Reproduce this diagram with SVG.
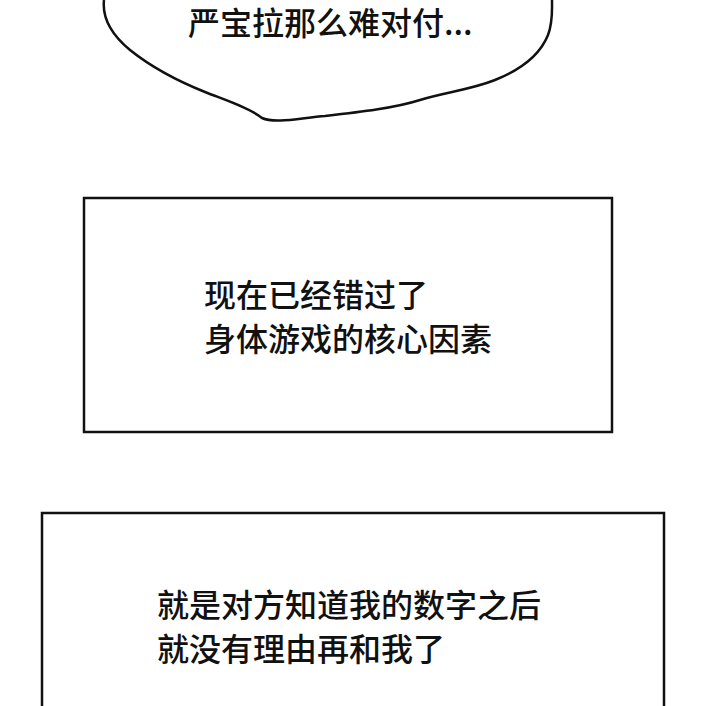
<svg xmlns="http://www.w3.org/2000/svg" width="720" height="706" viewBox="0 0 720 706">
<style>
.t{font-family:"Noto Sans CJK SC","Noto Sans",sans-serif;font-size:32px;font-weight:500;fill:#111}
.b{fill:#fff;stroke:#111;stroke-width:2.5}
</style>
<rect width="720" height="706" fill="#fff"/>
<g id="bubble">
<path class="b" d="M104,0 C102,18 112,35 130,50 C150,66 175,80 205,92 C225,100 250,108 262,118 C275,124 300,118 325,116 C360,112 395,108 420,100 C445,92 470,90 495,80 C520,70 540,55 548,35 C553,22 552,10 552,0"/>
<text class="t" x="188" y="35">严宝拉那么难对付...</text>
</g>
<g id="box1">
<rect class="b" x="84" y="198" width="528" height="234"/>
<text class="t" x="204" y="307">现在已经错过了</text>
<text class="t" x="204" y="351">身体游戏的核心因素</text>
</g>
<g id="box2">
<rect class="b" x="42" y="513" width="622" height="210"/>
<text class="t" x="157" y="617">就是对方知道我的数字之后</text>
<text class="t" x="157" y="661">就没有理由再和我了</text>
</g>
<g id="connectors"/>
</svg>
